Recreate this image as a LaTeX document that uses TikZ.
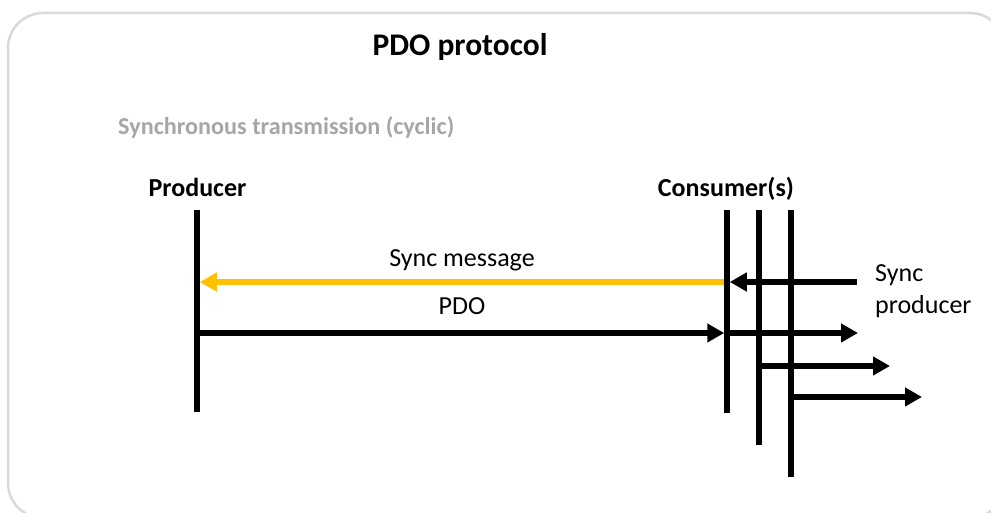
\documentclass[tikz,border=0pt]{standalone}
\usepackage{fontspec}
\setmainfont{Carlito}
\usetikzlibrary{arrows.meta}
\definecolor{syncorange}{HTML}{FFC000}
\definecolor{framegray}{HTML}{D9D9D9}
\definecolor{subgray}{HTML}{A6A6A6}
\begin{document}
\begin{tikzpicture}[x=1pt,y=-1pt,
  life/.style={line width=5.5pt,black},
  msg/.style={line width=5.5pt,-{Triangle[length=17pt,width=18pt]}},
  lbl/.style={font=\fontsize{26}{32}\selectfont,inner sep=0pt},
  role/.style={font=\fontsize{26}{32}\selectfont\bfseries,inner sep=0pt},
]
\useasboundingbox (0,0) rectangle (991,513);
\begin{scope}
  \clip (0,0) rectangle (991,513);
  \draw[framegray,line width=2.5pt,rounded corners=35pt] (8,13) rectangle (1005,518);
\end{scope}
\node[font=\fontsize{31.5}{36}\selectfont\bfseries,inner sep=0pt,anchor=base] (title) at (460,56) {PDO protocol};
\node[font=\fontsize{24.2}{29}\selectfont\bfseries,text=subgray,inner sep=0pt,anchor=base west] (sub) at (118,135) {Synchronous transmission (cyclic)};
\node[role,anchor=base] (prod) at (197.5,197) {Producer};
\node[role,anchor=base] (cons) at (726,197) {Consumer(s)};
% lifelines
\coordinate (pt) at (197,210); \coordinate (pb) at (197,412);
\coordinate (c1t) at (727,210); \coordinate (c1b) at (727,413);
\coordinate (c2t) at (759,210); \coordinate (c2b) at (759,445);
\coordinate (c3t) at (791,210); \coordinate (c3b) at (791,477);
% arrow points
\coordinate (syncP) at (197,282); \coordinate (syncC) at (727,282);
\coordinate (sprod) at (857,282);
\coordinate (pdoP) at (197,333); \coordinate (pdoC) at (727,333);
\coordinate (out1) at (858,333);
\coordinate (c2o) at (759,366); \coordinate (out2) at (890,366);
\coordinate (c3o) at (791,397); \coordinate (out3) at (922,397);
\draw[msg,syncorange,shorten <=2.75pt,shorten >=2.75pt] (syncC) -- (syncP);
\draw[life] (pt) -- (pb);
\draw[life] (c1t) -- (c1b);
\draw[life] (c2t) -- (c2b);
\draw[life] (c3t) -- (c3b);
\draw[msg,shorten >=2.75pt] (sprod) -- (syncC);
\draw[msg,shorten >=2.75pt] (pdoP) -- (pdoC);
\draw[msg] (pdoC) -- (out1);
\draw[msg] (c2o) -- (out2);
\draw[msg] (c3o) -- (out3);
\node[lbl,anchor=base] (syncmsg) at (462,266) {Sync message};
\node[lbl,anchor=base] (pdolbl) at (462,314) {PDO};
\node[lbl,anchor=base west] (sp1) at (875,281) {Sync};
\node[lbl,anchor=base west] (sp2) at (875,313) {producer};
\end{tikzpicture}
\end{document}
